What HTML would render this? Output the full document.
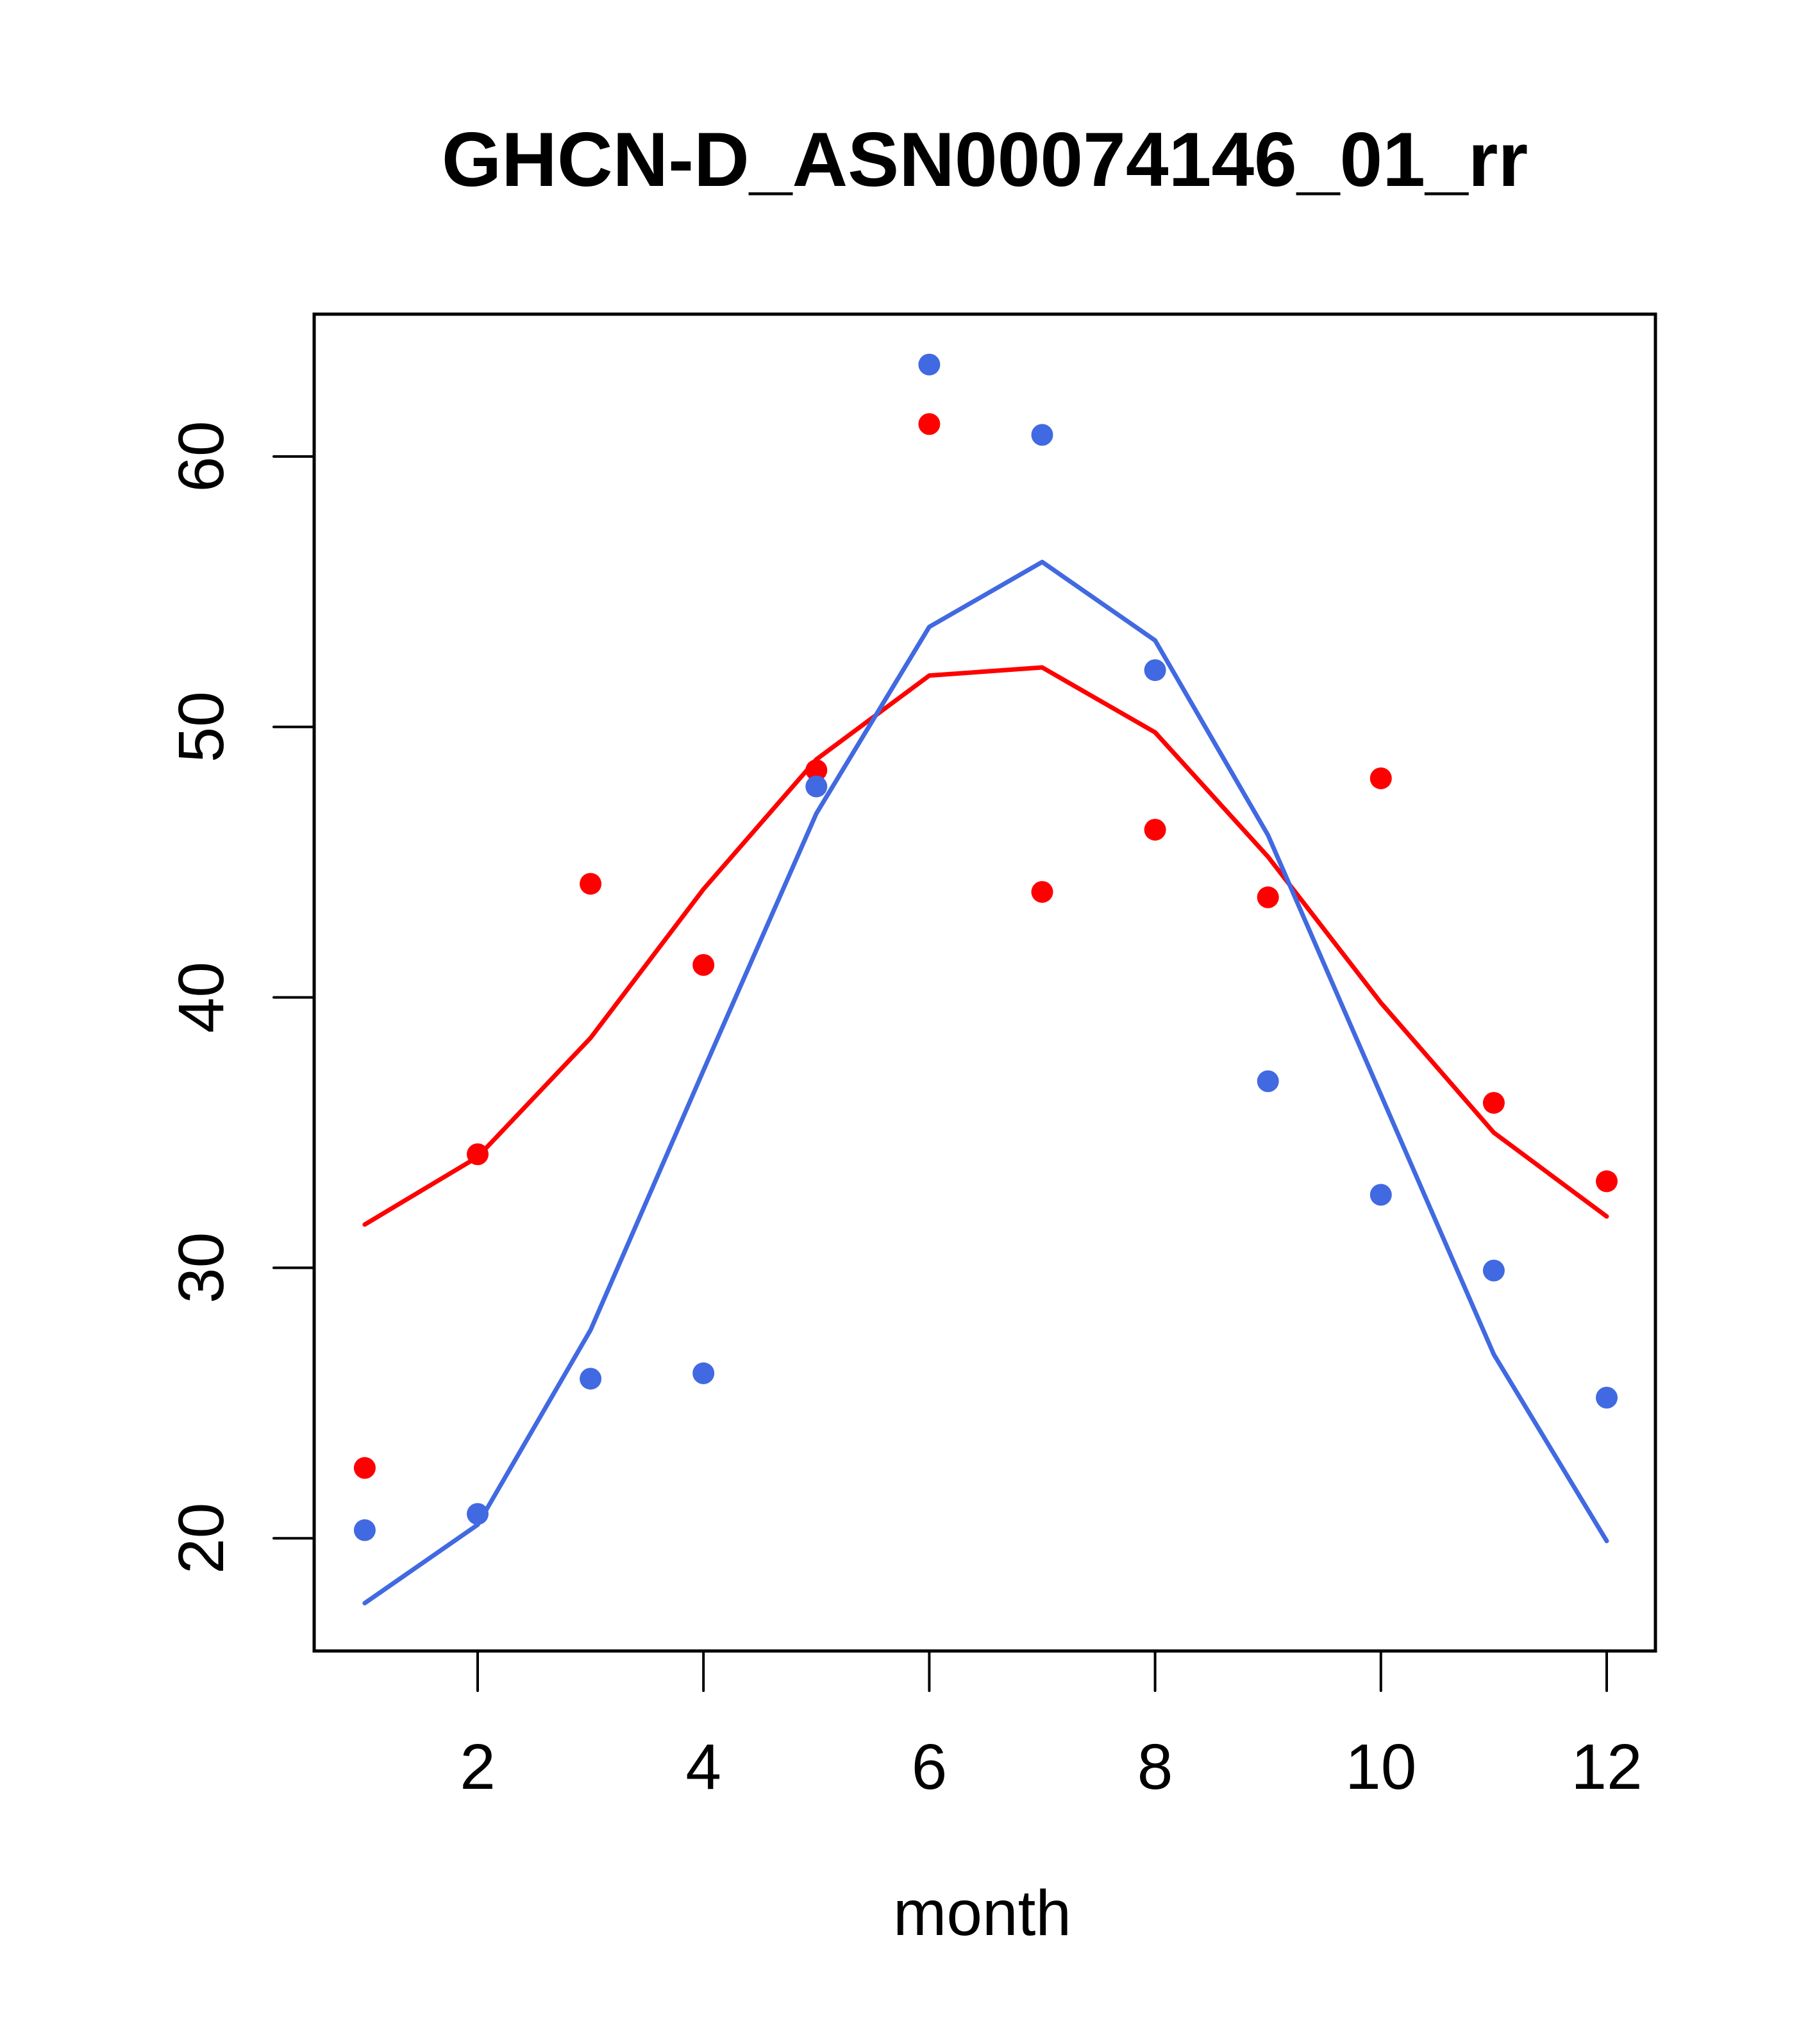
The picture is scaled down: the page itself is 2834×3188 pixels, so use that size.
<!DOCTYPE html>
<html><head><meta charset="utf-8"><style>body{margin:0;background:#fff}svg{display:block}text{font-family:"Liberation Sans",Arial,sans-serif}</style></head>
<body>
<svg id="chart" width="2834" height="3188" viewBox="0 0 2834 3188" xmlns="http://www.w3.org/2000/svg">
<rect width="2834" height="3188" fill="#fff"/>
<text x="1536" y="290" font-size="120" font-weight="bold" text-anchor="middle">GHCN-D_ASN00074146_01_rr</text>
<rect x="490" y="490" width="2092" height="2085" fill="none" stroke="#000" stroke-width="5"/>
<g id="xaxis"></g>
<g id="yaxis"></g>
<text x="1532" y="3018" font-size="100" text-anchor="middle">month</text>
<g id="series"></g>
</svg>
<script>
const months=[1,2,3,4,5,6,7,8,9,10,11,12];
const xTicks=[2,4,6,8,10,12];
const yTicks=[20,30,40,50,60];
const redPoints=[22.6,34.2,44.2,41.2,48.4,61.2,43.9,46.2,43.7,48.1,36.1,33.2];
const bluePoints=[20.3,20.9,25.9,26.1,47.8,63.4,60.8,52.1,36.9,32.7,29.9,25.2];
const redLine=[31.6,34.1,38.5,44.0,48.8,51.9,52.2,49.8,45.2,39.8,35.0,31.9];
const blueLine=[17.6,20.5,27.7,37.3,46.8,53.7,56.1,53.2,46.0,36.4,26.8,19.9];
const NS="http://www.w3.org/2000/svg";
function xs(m){return 745+(m-2)*176.1;}
function ys(v){return 712+(60-v)*42.18;}
function mk(t,a,p){const e=document.createElementNS(NS,t);for(const k in a)e.setAttribute(k,a[k]);p.appendChild(e);return e;}
const xa=document.getElementById('xaxis'),ya=document.getElementById('yaxis'),se=document.getElementById('series');
xTicks.forEach(t=>{
 const l=mk('line',{x1:xs(t),x2:xs(t),y1:2575,y2:2637,stroke:'#000','stroke-width':4,'stroke-linecap':'round'},xa);
 
 
 const tx=mk('text',{x:xs(t),y:2790,'font-size':100,'text-anchor':'middle'},xa);tx.textContent=t;
 
 
});
yTicks.forEach(t=>{
 const l=mk('line',{x1:427,x2:490,y1:ys(t),y2:ys(t),stroke:'#000','stroke-width':4,'stroke-linecap':'round'},ya);
 
 
 const tx=mk('text',{x:348,y:ys(t),'font-size':100,'text-anchor':'middle',transform:`rotate(-90 348 ${ys(t)})`},ya);tx.textContent=t;
 
 
});
function line(vals,col,name){
 const p=mk('polyline',{points:vals.map((v,i)=>xs(months[i])+','+ys(v)).join(' '),fill:'none',stroke:col,'stroke-width':7,'stroke-linejoin':'round','stroke-linecap':'round'},se);
 
 
}
function pts(vals,col,name){
 vals.forEach((v,i)=>{
  const c=mk('circle',{cx:xs(months[i]),cy:ys(v),r:17,fill:col},se);
  
  
 });
}
line(redLine,'#ff0000','red-fit-line');
line(blueLine,'#4169e1','blue-fit-line');
pts(redPoints,'#ff0000','red-point');
pts(bluePoints,'#4169e1','blue-point');
</script>
</body></html>
